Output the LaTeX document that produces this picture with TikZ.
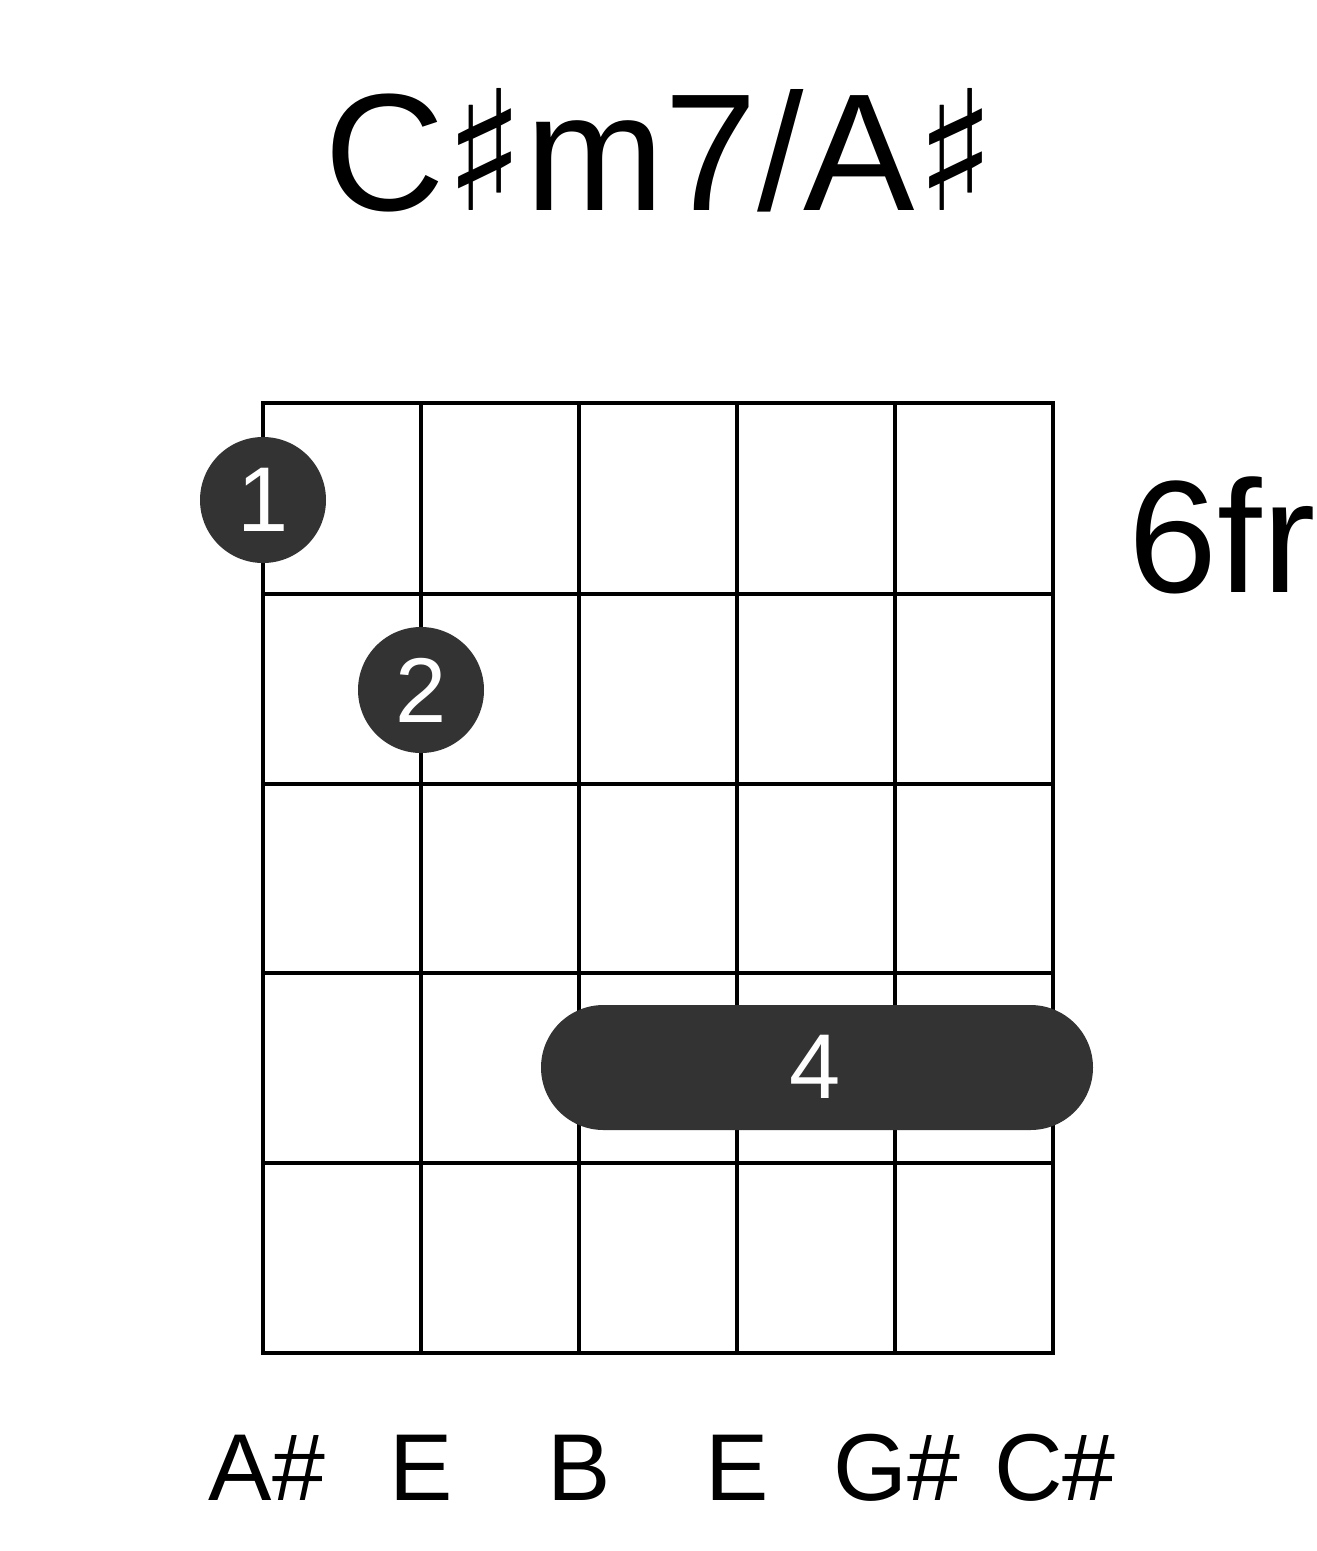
\documentclass[tikz,border=0pt]{standalone}
\usepackage{fontspec}
\setmainfont{Liberation Sans}
\newfontfamily\symf{DejaVu Sans}
\definecolor{dot}{HTML}{333333}
\begin{document}
\begin{tikzpicture}[x=1pt,y=-1pt,
  grid/.style={line width=4pt,black},
  fdot/.style={circle,fill=dot,minimum size=126pt,inner sep=0pt,text=white,font=\fontsize{92}{92}\selectfont},
  lbl/.style={font=\fontsize{95}{95}\selectfont,anchor=base}]
\useasboundingbox (0,0) rectangle (1317,1551);
\node[anchor=base,font=\fontsize{167}{167}\selectfont] (title) at (660,210) {C{\symf\char"266F}m7/A{\symf\char"266F}};
\foreach \x in {263,421,579,737,895,1053} \draw[grid] (\x,403) -- (\x,1353);
\foreach \y in {403,594,784,973,1163,1353} \draw[grid] (263,\y) -- (1053,\y);
\draw[grid] (263,403) rectangle (1053,1353);
\node[anchor=base,font=\fontsize{160}{160}\selectfont] (fr) at (1222,592) {6fr};
\node[fdot] (d1) at (263,500) {1};
\node[fdot] (d2) at (421,690) {2};
\fill[dot,rounded corners=62.5pt] (541,1005) rectangle (1093,1130);
\node[text=white,font=\fontsize{92}{92}\selectfont] (d4) at (815,1067) {4};
\node[lbl] (s1) at (267,1500) {A\#};
\node[lbl] (s2) at (421,1500) {E};
\node[lbl] (s3) at (579,1500) {B};
\node[lbl] (s4) at (737,1500) {E};
\node[lbl] (s5) at (897,1500) {G\#};
\node[lbl] (s6) at (1055,1500) {C\#};
\end{tikzpicture}
\end{document}
